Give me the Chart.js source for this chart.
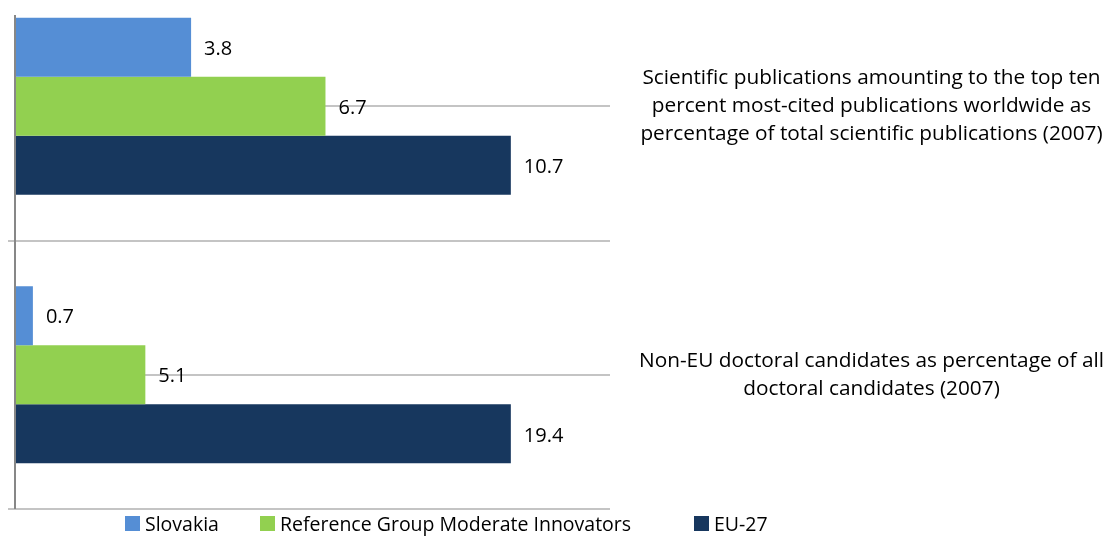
<!DOCTYPE html>
<html>
<head>
<meta charset="utf-8">
<title>Slovakia vs reference group vs EU-27</title>
<script src="https://cdn.jsdelivr.net/npm/chart.js@4.4.1/dist/chart.umd.min.js"></script>
<style>
  html, body { margin: 0; padding: 0; background: #fff; }
  #wrap { position: relative; width: 1105px; height: 536px; overflow: hidden; font-family: "Open Sans", sans-serif; }
  #wrap canvas { position: absolute; left: 0; top: -28px; }
  #legend { position: absolute; left: 0; top: 511px; width: 1105px; height: 25px; }
  .item { position: absolute; top: 0; display: flex; align-items: center; font-size: 19.5px; line-height: 25px; color: #000; white-space: nowrap; }
  .item .box { width: 15px; height: 15px; margin-right: 5px; }
</style>
</head>
<body>
<div id="wrap">
  <canvas id="chart" width="1105" height="560"></canvas>
  <div id="legend"></div>
</div>
<script>
var categories = [
  ["Scientific publications amounting to the top ten",
   "percent most-cited publications worldwide as",
   "percentage of total scientific publications (2007)"],
  ["Non-EU doctoral candidates as percentage of all",
   "doctoral candidates (2007)"]
];
var seriesNames = ["Slovakia", "Reference Group Moderate Innovators", "EU-27"];
var seriesColors = ["#558ed5", "#92d050", "#17375e"];
var slovakia = [3.8, 0.7];
var referenceGroup = [6.7, 5.1];
var eu27 = [10.7, 19.4];

(function () {
  "use strict";

  // bars are drawn relative to EU-27 (= 100), labels show the real value
  function relToEu(values) {
    return values.map(function (v, i) {
      return v / eu27[i] * 100;
    });
  }

  var series = [slovakia, referenceGroup, eu27];
  var legendX = [125, 260, 694];

  var valueLabels = {
    id: "valueLabels",
    afterDatasetsDraw: function (chart) {
      var ctx = chart.ctx;
      ctx.save();
      ctx.font = "20px 'Open Sans'";
      ctx.fillStyle = "#000";
      ctx.textBaseline = "middle";
      chart.data.datasets.forEach(function (ds, i) {
        chart.getDatasetMeta(i).data.forEach(function (bar, j) {
          ctx.fillText(ds.values[j].toFixed(1), bar.x + 13, bar.y + 2);
        });
      });
      // value axis line
      var area = chart.chartArea;
      ctx.strokeStyle = "#878787";
      ctx.lineWidth = 2;
      ctx.beginPath();
      ctx.moveTo(area.left, area.top + 43);
      ctx.lineTo(area.left, area.bottom);
      ctx.stroke();
      ctx.restore();
    }
  };

  new Chart(document.getElementById("chart"), {
    type: "bar",
    data: {
      labels: categories,
      datasets: series.map(function (vals, i) {
        return {
          label: seriesNames[i],
          data: relToEu(vals),
          values: vals,
          backgroundColor: seriesColors[i],
          borderWidth: 0,
          categoryPercentage: 0.66,
          barPercentage: 1.0
        };
      })
    },
    options: {
      indexAxis: "y",
      responsive: false,
      animation: false,
      layout: { padding: { left: 8, right: 2, top: 0, bottom: 23 } },
      plugins: { legend: { display: false }, tooltip: { enabled: false } },
      scales: {
        x: { display: false, min: 0, max: 120 },
        y: {
          position: "left",
          offset: true,
          grid: { offset: true, color: "#c4c4c4", lineWidth: 2, tickLength: 7 },
          ticks: { display: false },
          border: { display: false }
        },
        y2: {
          type: "category",
          position: "right",
          offset: true,
          grid: { offset: false, color: "#c4c4c4", lineWidth: 2, drawTicks: false },
          border: { display: false },
          ticks: {
            crossAlign: "center",
            padding: 29,
            color: "#000",
            font: { family: "'Open Sans'", size: 20.8, lineHeight: 1.36 }
          },
          afterFit: function (s) {
            s.width = 493;
            s.paddingTop = 0;
            s.paddingBottom = 0;
          }
        }
      }
    },
    plugins: [valueLabels]
  });

  var legend = document.getElementById("legend");
  seriesNames.forEach(function (name, i) {
    var item = document.createElement("div");
    item.className = "item";
    item.style.left = legendX[i] + "px";
    var box = document.createElement("span");
    box.className = "box";
    box.style.background = seriesColors[i];
    item.appendChild(box);
    item.appendChild(document.createTextNode(name));
    legend.appendChild(item);
  });
})();
</script>
</body>
</html>
